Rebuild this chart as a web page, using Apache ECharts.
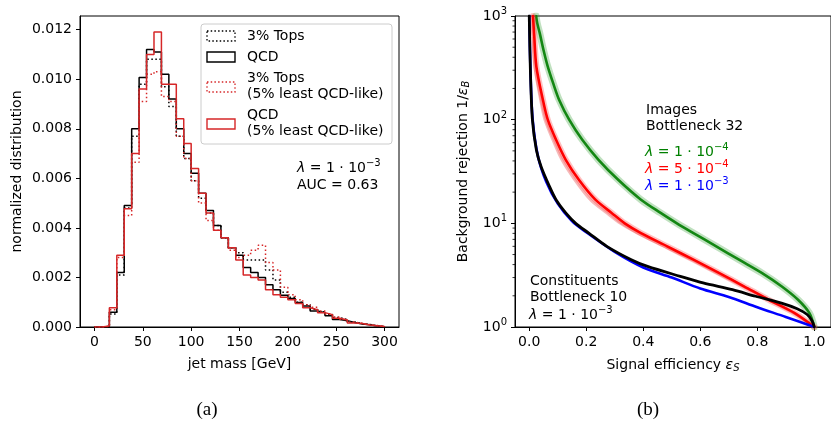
<!DOCTYPE html>
<html><head><meta charset="utf-8">
<script src="https://cdn.jsdelivr.net/npm/echarts@6/dist/echarts.min.js"></script>
<style>html,body{margin:0;padding:0;background:#fff}#c{width:831px;height:423px}</style>
</head><body><div id="c"></div>
<script>
// ---------- (a) jet mass histograms ----------
const binEdges = [0, 7.69, 15.38, 23.08, 30.77, 38.46, 46.15, 53.85, 61.54, 69.23, 76.92, 84.62, 92.31, 100,
  107.69, 115.38, 123.08, 130.77, 138.46, 146.15, 153.85, 161.54, 169.23, 176.92, 184.62, 192.31, 200,
  207.69, 215.38, 223.08, 230.77, 238.46, 246.15, 253.85, 261.54, 269.23, 276.92, 284.62, 292.31, 300];
const topsAll = [0, 0.00002, 0.00052, 0.0021, 0.0048, 0.0077, 0.0098, 0.0108, 0.0108, 0.0097, 0.0089, 0.0077, 0.0068,
  0.0059, 0.0052, 0.0046, 0.0041, 0.0036, 0.0032, 0.0030, 0.0027, 0.0027, 0.0027, 0.0023, 0.0019, 0.0014, 0.0012,
  0.0010, 0.0009, 0.00072, 0.00062, 0.0005, 0.00038, 0.0003, 0.0002, 0.00014, 0.0001, 0.00005, 0.00002];
const qcdAll = [0, 0.00002, 0.00060, 0.0022, 0.0049, 0.0080, 0.01007, 0.0112, 0.0111, 0.0102, 0.0092, 0.0080, 0.0070,
  0.0062, 0.0054, 0.0047, 0.0041, 0.0036, 0.0032, 0.0029, 0.0024, 0.0022, 0.0020, 0.0017, 0.0015, 0.00128, 0.00115,
  0.00099, 0.00085, 0.00065, 0.00058, 0.00045, 0.00030, 0.00025, 0.00018, 0.00012, 0.00009, 0.00004, 0.00001];
const topsLeast = [0, 0.00003, 0.0007, 0.0028, 0.0045, 0.00665, 0.0091, 0.0102, 0.0103, 0.0093, 0.0091, 0.0077, 0.0068,
  0.0059, 0.0050, 0.0043, 0.0039, 0.0036, 0.0031, 0.0028, 0.0029, 0.0031, 0.0033, 0.0026, 0.0023, 0.0016, 0.0013,
  0.0011, 0.0009, 0.0008, 0.00065, 0.00052, 0.0004, 0.0003, 0.0002, 0.00015, 0.0001, 0.00006, 0.00003];
const qcdLeast = [0, 0.00004, 0.00078, 0.0029, 0.00477, 0.0070, 0.0096, 0.0110, 0.0119, 0.0098, 0.0098, 0.0084, 0.0074,
  0.0064, 0.0054, 0.0046, 0.0039, 0.0036, 0.0032, 0.0027, 0.0021, 0.0020, 0.0019, 0.0015, 0.0013, 0.0012, 0.0011,
  0.00095, 0.00078, 0.00070, 0.00058, 0.00050, 0.00035, 0.00028, 0.00016, 0.00014, 0.00008, 0.00005, 0.00002];
const massTicks = [0, 50, 100, 150, 200, 250, 300];
const densTicks = [0, 0.002, 0.004, 0.006, 0.008, 0.010, 0.012];

// ---------- (b) ROC curves ----------
const effGreen = [0.024, 0.028, 0.037, 0.05, 0.065, 0.085, 0.105, 0.14, 0.186, 0.243, 0.312, 0.392, 0.461, 0.518, 0.576, 0.656, 0.736, 0.817, 0.885, 0.943, 0.983, 1.0];
const rejGreen = [1000, 850, 680, 470, 325, 220, 155, 100, 64, 41, 26.3, 16.9, 12.6, 10, 8.05, 6.0, 4.46, 3.31, 2.47, 1.83, 1.36, 1.0];
const effRed = [0.013, 0.017, 0.025, 0.048, 0.065, 0.094, 0.128, 0.174, 0.232, 0.289, 0.335, 0.392, 0.484, 0.576, 0.667, 0.753, 0.84, 0.931, 1.0];
const rejRed = [1000, 680, 325, 155, 100, 64, 41, 26.3, 16.9, 12.6, 10, 8.05, 6.0, 4.46, 3.31, 2.47, 1.83, 1.36, 1.0];
const effRedAlt = [0.012, 0.02, 0.04, 0.055, 0.083, 0.115, 0.16, 0.215, 0.272, 0.32, 0.38, 0.475, 0.57, 0.66, 0.75, 0.84, 0.93, 1.0];
const rejRedAlt = [1000, 325, 155, 100, 64, 41, 26.3, 16.9, 12.6, 10, 8.05, 6.0, 4.46, 3.31, 2.47, 1.83, 1.36, 1.0];
const effBlue = [0.0, 0.005, 0.012, 0.03, 0.06, 0.1, 0.15, 0.2, 0.3, 0.4, 0.5, 0.6, 0.7, 0.8, 0.9, 1.0];
const rejBlue = [1000, 250, 100, 45, 25, 15.5, 10.5, 8.2, 5.3, 3.75, 3.0, 2.35, 1.95, 1.55, 1.25, 1.0];
const effBlack = [0.0, 0.004, 0.011, 0.025, 0.042, 0.071, 0.094, 0.128, 0.163, 0.209, 0.272, 0.358, 0.415, 0.53, 0.61, 0.713, 0.794, 0.885, 0.94, 0.975, 0.992, 1.0];
const rejBlack = [1000, 300, 100, 51, 35, 22.7, 16.9, 12.6, 10, 8.05, 6.0, 4.46, 3.84, 3.08, 2.66, 2.29, 1.98, 1.70, 1.50, 1.32, 1.15, 1.0];
const effTicks = [0, 0.2, 0.4, 0.6, 0.8, 1.0];
const rejMinorTicks = [2,3,4,5,6,7,8,9,20,30,40,50,60,70,80,90,200,300,400,500,600,700,800,900];

const FONT = 'DejaVu Sans';
const RED_A = '#d62728';

function histPoints(vals) {
  const pts = [[binEdges[0], 0]];
  for (let i = 0; i < vals.length; i++) pts.push([binEdges[i], vals[i]]);
  pts.push([binEdges[binEdges.length - 1], 0]);
  return pts;
}
function pairs(xs, ys) { return xs.map((x, i) => [x, ys[i]]); }

function histSeries(vals, color, dotted) {
  return {
    type: 'line', xAxisIndex: 0, yAxisIndex: 0, step: 'end', showSymbol: false, silent: true,
    data: histPoints(vals),
    lineStyle: { color: color, width: 1.5, type: dotted ? [1.5, 2.5] : 'solid' }
  };
}
function rocSeries(xs, ys, color, width, opacity, z) {
  return {
    type: 'line', xAxisIndex: 1, yAxisIndex: 1, showSymbol: false, silent: true, smooth: 0.3,
    z: z, data: pairs(xs, ys),
    lineStyle: { color: color, width: width, opacity: opacity, cap: 'round', join: 'round' }
  };
}

const axisCommon = {
  axisLine: { show: true, onZero: false, lineStyle: { color: '#000', width: 1 } },
  axisTick: { show: true, inside: false, length: 4, lineStyle: { color: '#000', width: 1 } },
  axisLabel: { color: '#000', fontFamily: FONT, fontSize: 14 },
  splitLine: { show: false }
};

function sup(t) { return '{s|' + t + '}'; }
const richMath = { i: { fontFamily: FONT, fontStyle: 'italic', fontSize: 14 }, s: { fontFamily: FONT, fontSize: 10, verticalAlign: 'top', padding: [0, 0, 9, 0] } };

const chart = echarts.init(document.getElementById('c'), null, { renderer: 'canvas' });
const option = {
  animation: false,
  backgroundColor: '#fff',
  grid: [
    { left: 80, top: 16, width: 319, height: 311, show: true, borderColor: '#000', borderWidth: 1, backgroundColor: 'transparent' },
    { left: 515, top: 16, width: 322, height: 311, show: true, borderColor: '#000', borderWidth: 1, backgroundColor: 'transparent' }
  ],
  xAxis: [
    Object.assign({}, axisCommon, {
      type: 'value', gridIndex: 0, min: -15, max: 315,
      axisTick: Object.assign({}, axisCommon.axisTick, { customValues: massTicks }),
      axisLabel: Object.assign({}, axisCommon.axisLabel, { customValues: massTicks, margin: 8 }),
      name: 'jet mass [GeV]', nameLocation: 'middle', nameGap: 30,
      nameTextStyle: { color: '#000', fontFamily: FONT, fontSize: 14 }
    }),
    Object.assign({}, axisCommon, {
      type: 'value', gridIndex: 1, min: -0.05, max: 1.0587,
      axisTick: Object.assign({}, axisCommon.axisTick, { customValues: effTicks }),
      axisLabel: Object.assign({}, axisCommon.axisLabel, { customValues: effTicks, margin: 8, formatter: v => v.toFixed(1) }),
      name: 'Signal efficiency {i|ε}{sb|S}', nameLocation: 'middle', nameGap: 30, nameMoveOverlap: false,
      nameTextStyle: { color: '#000', fontFamily: FONT, fontSize: 14, padding: [0, 0, 0, 0],
        rich: { i: { fontFamily: FONT, fontStyle: 'italic', fontSize: 14 }, sb: { fontFamily: FONT, fontStyle: 'italic', fontSize: 10, verticalAlign: 'bottom', padding: [6, 0, 0, 0] } } }
    })
  ],
  yAxis: [
    Object.assign({}, axisCommon, {
      type: 'value', gridIndex: 0, min: 0, max: 0.01255,
      axisTick: Object.assign({}, axisCommon.axisTick, { customValues: densTicks }),
      axisLabel: Object.assign({}, axisCommon.axisLabel, { customValues: densTicks, margin: 8, formatter: v => v.toFixed(3) }),
      name: 'normalized distribution', nameLocation: 'middle', nameGap: 56,
      nameTextStyle: { color: '#000', fontFamily: FONT, fontSize: 14 }
    }),
    Object.assign({}, axisCommon, {
      type: 'log', logBase: 10, gridIndex: 1, min: 1, max: 1000,
      axisLabel: Object.assign({}, axisCommon.axisLabel, {
        margin: 8,
        formatter: v => '10' + sup(String(Math.round(Math.log10(v)))),
        rich: { s: { fontFamily: FONT, fontSize: 10, verticalAlign: 'top', padding: [0, 0, 9, 0] } }
      }),
      name: 'Background rejection 1/{i|ε}{sb|B}', nameLocation: 'middle', nameGap: 44,
      nameTextStyle: { color: '#000', fontFamily: FONT, fontSize: 14,
        rich: { i: { fontFamily: FONT, fontStyle: 'italic', fontSize: 14 }, sb: { fontFamily: FONT, fontStyle: 'italic', fontSize: 10, padding: [6, 0, 0, 0] } } }
    })
  ],
  series: [
    histSeries(topsAll, '#000', true),
    histSeries(qcdAll, '#000', false),
    histSeries(topsLeast, RED_A, true),
    histSeries(qcdLeast, RED_A, false),
    rocSeries(effGreen, rejGreen, '#2e9a2e', 7, 0.3, 2),
    rocSeries(effGreen, rejGreen, '#0a820a', 2.6, 0.95, 3),
    rocSeries(effRedAlt, rejRedAlt, '#f08a8a', 3, 0.6, 4),
    rocSeries(effRed, rejRed, '#ff3030', 6, 0.3, 4),
    rocSeries(effRed, rejRed, '#ff0000', 2.6, 1, 5),
    rocSeries(effBlue, rejBlue, '#0000ff', 2.6, 1, 6),
    rocSeries(effBlack, rejBlack, '#000000', 2.8, 1, 7),
    {
      type: 'custom', xAxisIndex: 1, yAxisIndex: 1, silent: true, clip: false,
      data: rejMinorTicks.map(v => [-0.05, v]),
      renderItem: (params, api) => {
        const p = api.coord([api.value(0), api.value(1)]);
        return { type: 'line', shape: { x1: p[0] - 2.5, y1: p[1], x2: p[0], y2: p[1] }, style: { stroke: '#000', lineWidth: 0.8 } };
      }
    }
  ],
  graphic: [
    { type: 'rect', shape: { x: 201, y: 24, width: 191, height: 120, r: 3 }, style: { fill: 'rgba(255,255,255,0.85)', stroke: '#cccccc', lineWidth: 1 }, z: 50 },
    { type: 'rect', shape: { x: 207, y: 31, width: 28, height: 10 }, style: { fill: 'none', stroke: '#000', lineWidth: 1.3, lineDash: [1.5, 2.2] }, z: 51 },
    { type: 'rect', shape: { x: 207, y: 52, width: 28, height: 10 }, style: { fill: 'none', stroke: '#000', lineWidth: 1.4 }, z: 51 },
    { type: 'rect', shape: { x: 207, y: 82, width: 28, height: 10 }, style: { fill: 'none', stroke: RED_A, lineWidth: 1.3, lineDash: [1.5, 2.2] }, z: 51 },
    { type: 'rect', shape: { x: 207, y: 119, width: 28, height: 10 }, style: { fill: 'none', stroke: RED_A, lineWidth: 1.4 }, z: 51 },
    { type: 'text', x: 247, y: 36, style: { text: '3% Tops', font: '14px "DejaVu Sans"', fill: '#000', verticalAlign: 'middle' }, z: 51 },
    { type: 'text', x: 247, y: 57, style: { text: 'QCD', font: '14px "DejaVu Sans"', fill: '#000', verticalAlign: 'middle' }, z: 51 },
    { type: 'text', x: 247, y: 78, style: { text: '3% Tops', font: '14px "DejaVu Sans"', fill: '#000', verticalAlign: 'middle' }, z: 51 },
    { type: 'text', x: 247, y: 94.5, style: { text: '(5% least QCD-like)', font: '14px "DejaVu Sans"', fill: '#000', verticalAlign: 'middle' }, z: 51 },
    { type: 'text', x: 247, y: 115, style: { text: 'QCD', font: '14px "DejaVu Sans"', fill: '#000', verticalAlign: 'middle' }, z: 51 },
    { type: 'text', x: 247, y: 131.5, style: { text: '(5% least QCD-like)', font: '14px "DejaVu Sans"', fill: '#000', verticalAlign: 'middle' }, z: 51 },
    { type: 'text', x: 297, y: 168, style: { text: '{i|λ} = 1 · 10{s|−3}', fill: '#000', verticalAlign: 'middle', font: '14px "DejaVu Sans"', rich: richMath }, z: 51 },
    { type: 'text', x: 297, y: 185, style: { text: 'AUC = 0.63', font: '14px "DejaVu Sans"', fill: '#000', verticalAlign: 'middle' }, z: 51 },
    { type: 'text', x: 646, y: 110, style: { text: 'Images', font: '14px "DejaVu Sans"', fill: '#000', verticalAlign: 'middle' }, z: 51 },
    { type: 'text', x: 646, y: 126, style: { text: 'Bottleneck 32', font: '14px "DejaVu Sans"', fill: '#000', verticalAlign: 'middle' }, z: 51 },
    { type: 'text', x: 645, y: 152, style: { text: '{i|λ} = 1 · 10{s|−4}', fill: '#008000', verticalAlign: 'middle', font: '14px "DejaVu Sans"', rich: richMath }, z: 51 },
    { type: 'text', x: 645, y: 169, style: { text: '{i|λ} = 5 · 10{s|−4}', fill: '#ff0000', verticalAlign: 'middle', font: '14px "DejaVu Sans"', rich: richMath }, z: 51 },
    { type: 'text', x: 645, y: 186, style: { text: '{i|λ} = 1 · 10{s|−3}', fill: '#0000ff', verticalAlign: 'middle', font: '14px "DejaVu Sans"', rich: richMath }, z: 51 },
    { type: 'text', x: 530, y: 281, style: { text: 'Constituents', font: '14px "DejaVu Sans"', fill: '#000', verticalAlign: 'middle' }, z: 51 },
    { type: 'text', x: 530, y: 297, style: { text: 'Bottleneck 10', font: '14px "DejaVu Sans"', fill: '#000', verticalAlign: 'middle' }, z: 51 },
    { type: 'text', x: 529, y: 315, style: { text: '{i|λ} = 1 · 10{s|−3}', fill: '#000', verticalAlign: 'middle', font: '14px "DejaVu Sans"', rich: richMath }, z: 51 },
    { type: 'text', x: 207, y: 410, style: { text: '(a)', font: '19px "Liberation Serif"', fill: '#000', align: 'center', verticalAlign: 'middle' }, z: 51 },
    { type: 'text', x: 648, y: 410, style: { text: '(b)', font: '19px "Liberation Serif"', fill: '#000', align: 'center', verticalAlign: 'middle' }, z: 51 }
  ]
};
chart.setOption(option);
</script></body></html>
